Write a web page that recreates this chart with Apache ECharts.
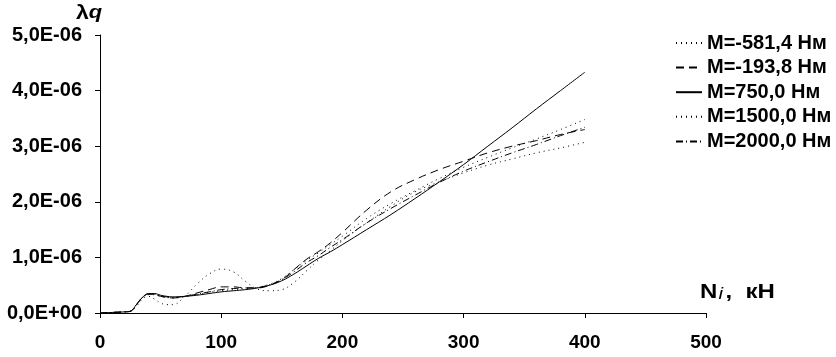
<!DOCTYPE html>
<html>
<head>
<meta charset="utf-8">
<script src="https://cdn.jsdelivr.net/npm/echarts@6/dist/echarts.min.js"></script>
<style>
  html, body { margin: 0; padding: 0; background: #fff; }
  #chart { width: 836px; height: 357px; }
</style>
</head>
<body>
<div id="chart"></div>
<script>
// N, kH
const nValues = [0, 10, 20, 25, 30, 35, 40, 45, 50, 55, 60, 70, 80, 90, 100, 110, 120, 130, 140, 150,
  160, 170, 180, 190, 200, 220, 240, 260, 280, 300, 320, 340, 360, 380, 400];

// lambda q, in units of 1E-06
const m581 = [0, 0.01, 0.02, 0.03, 0.12, 0.25, 0.30, 0.25, 0.18, 0.15, 0.15, 0.30, 0.52, 0.70, 0.79, 0.74, 0.57, 0.43, 0.40, 0.42,
  0.55, 0.75, 0.95, 1.12, 1.30, 1.62, 1.92, 2.18, 2.36, 2.52, 2.66, 2.77, 2.88, 2.97, 3.07];
const m193 = [0, 0.01, 0.02, 0.03, 0.15, 0.28, 0.34, 0.33, 0.30, 0.28, 0.27, 0.30, 0.36, 0.42, 0.47, 0.47, 0.45, 0.45, 0.50, 0.60,
  0.78, 0.96, 1.10, 1.26, 1.45, 1.85, 2.18, 2.40, 2.58, 2.73, 2.88, 3.00, 3.10, 3.21, 3.30];
const m750 = [0, 0.01, 0.02, 0.03, 0.15, 0.28, 0.35, 0.35, 0.32, 0.30, 0.29, 0.30, 0.32, 0.35, 0.38, 0.40, 0.42, 0.45, 0.50, 0.58,
  0.70, 0.84, 0.98, 1.10, 1.23, 1.50, 1.77, 2.06, 2.36, 2.67, 3.00, 3.33, 3.67, 4.00, 4.33];
const m1500 = [0, 0.01, 0.02, 0.03, 0.14, 0.27, 0.33, 0.33, 0.30, 0.28, 0.27, 0.29, 0.33, 0.37, 0.40, 0.42, 0.44, 0.46, 0.52, 0.62,
  0.78, 0.94, 1.08, 1.23, 1.38, 1.70, 1.97, 2.20, 2.42, 2.62, 2.80, 2.97, 3.13, 3.30, 3.48];
const m2000 = [0, 0.01, 0.02, 0.03, 0.15, 0.28, 0.34, 0.34, 0.31, 0.29, 0.28, 0.30, 0.34, 0.38, 0.42, 0.44, 0.45, 0.46, 0.51, 0.60,
  0.74, 0.90, 1.03, 1.18, 1.32, 1.62, 1.88, 2.12, 2.35, 2.55, 2.72, 2.88, 3.03, 3.19, 3.34];

const seriesNames = ['M=-581,4 Нм', 'M=-193,8 Нм', 'M=750,0 Нм', 'M=1500,0 Нм', 'M=2000,0 Нм'];
const seriesData = [m581, m193, m750, m1500, m2000];
const dashTypes = [[1, 4], [8, 5], 'solid', [1, 4], [7, 3, 1, 3]];

const font = 'Liberation Sans, Arial, sans-serif';

const pairs = (arr) => nValues.map((n, i) => [n, arr[i]]);

const chart = echarts.init(document.getElementById('chart'));

const option = {
  animation: false,
  backgroundColor: '#fff',
  grid: { left: 100, right: 130, top: 35, bottom: 44 },
  legend: {
    orient: 'vertical',
    left: 670,
    top: 28,
    itemWidth: 26,
    itemHeight: 14,
    itemGap: 4.6,
    data: seriesNames,
    itemStyle: { opacity: 0 },
    textStyle: { fontFamily: font, fontWeight: 'bold', fontSize: 20, lineHeight: 20, color: '#000' }
  },
  xAxis: {
    type: 'value',
    min: 0,
    max: 500,
    interval: 100,
    axisLine: { show: true, lineStyle: { color: '#000', width: 1 } },
    axisTick: { show: true, length: 5, lineStyle: { color: '#000' } },
    axisLabel: { margin: 20, fontFamily: font, fontWeight: 'bold', fontSize: 19, color: '#000' },
    splitLine: { show: false }
  },
  yAxis: {
    type: 'value',
    min: 0,
    max: 5,
    interval: 1,
    axisLine: { show: true, lineStyle: { color: '#000', width: 1 } },
    axisTick: { show: true, length: 5, lineStyle: { color: '#000' } },
    axisLabel: {
      margin: 18,
      fontFamily: font,
      fontWeight: 'bold',
      fontSize: 20,
      color: '#000',
      formatter: (v) => v.toFixed(1).replace('.', ',') + (v === 0 ? 'E+00' : 'E-06')
    },
    splitLine: { show: false }
  },
  graphic: [
    {
      type: 'text',
      x: 76,
      y: 3,
      scaleX: 1.15,
      style: {
        text: '{a|λ}{b|q}',
        rich: {
          a: { fontFamily: font, fontWeight: 'bold', fontSize: 20, fill: '#000' },
          b: { fontFamily: font, fontStyle: 'italic', fontWeight: 'bold', fontSize: 19, fill: '#000' }
        }
      }
    },
    {
      type: 'text',
      x: 700,
      y: 282,
      scaleX: 1.2,
      style: {
        text: '{a|N}{b|i}{a|,  кН}',
        rich: {
          a: { fontFamily: font, fontWeight: 'bold', fontSize: 20, fill: '#000' },
          b: { fontFamily: font, fontStyle: 'italic', fontSize: 17, fill: '#000', padding: [4, 2, 0, 1] }
        }
      }
    }
  ],
  series: seriesNames.map((name, i) => ({
    name: name,
    type: 'line',
    data: pairs(seriesData[i]),
    smooth: 0.4,
    symbol: 'none',
    lineStyle: { color: '#000', width: 1, type: dashTypes[i] },
    itemStyle: { color: '#000' }
  }))
};

chart.setOption(option);
</script>
</body>
</html>
